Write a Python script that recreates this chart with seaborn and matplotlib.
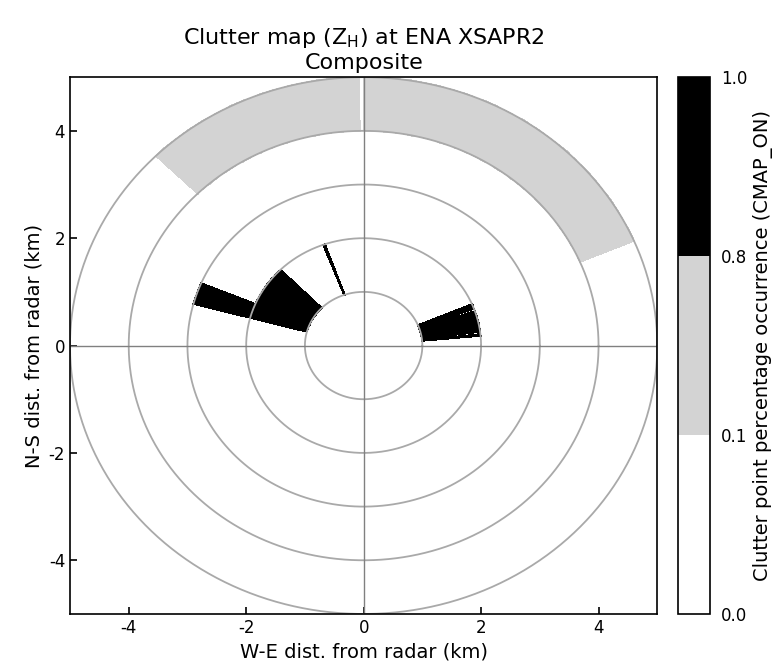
import numpy as np
import seaborn as sns
from matplotlib import pyplot as plt
from matplotlib.colors import ListedColormap, BoundaryNorm

# clutter occurrence per range gate (km) as (start az, stop az, fraction)
range_edges = [0, 1, 2, 3, 4, 5]
clutter_0_1km = []
clutter_1_2km = [(285, 315, 0.9), (340, 341, 0.9),
                 (67, 70, 0.9), (71, 83, 0.9), (84, 85, 0.9)]
clutter_2_3km = [(285, 293, 0.9)]
clutter_3_4km = []
clutter_4_5km = [(315, 359, 0.4), (0, 67, 0.4)]

levels = [0.0, 0.1, 0.8, 1.0]
level_colors = ['white', 'lightgray', 'black']

sns.set_style('ticks', {'xtick.direction': 'in', 'ytick.direction': 'in',
                        'axes.edgecolor': 'black', 'text.color': 'black',
                        'axes.labelcolor': 'black', 'xtick.color': 'black',
                        'ytick.color': 'black'})
plt.rcParams['axes.unicode_minus'] = False

# polar grid with 1 degree azimuth bins
az_edges = np.arange(0, 361, 1)
gates = [clutter_0_1km, clutter_1_2km, clutter_2_3km, clutter_3_4km, clutter_4_5km]
clutter = np.zeros((len(gates), len(az_edges) - 1))
for i, gate in enumerate(gates):
    for a0, a1, val in gate:
        clutter[i, a0:a1] = val
# zero cells are left to the white background
clutter = np.ma.masked_equal(clutter, 0)

R, AZ = np.meshgrid(range_edges, np.deg2rad(az_edges), indexing='ij')
X = R * np.sin(AZ)
Y = R * np.cos(AZ)

cmap = ListedColormap(level_colors)
norm = BoundaryNorm(levels, cmap.N)

fig = plt.figure(figsize=(7.82, 6.71), dpi=100)
ax = fig.add_axes([0.0895, 0.085, 0.751, 0.80])
cax = fig.add_axes([0.867, 0.085, 0.041, 0.80])

mesh = ax.pcolormesh(X, Y, clutter, cmap=cmap, norm=norm, shading='flat',
                     antialiased=False, edgecolors='face', linewidth=0.3)

# range rings and cross hairs
theta = np.linspace(0, 2 * np.pi, 400)
for r in range_edges[1:]:
    ax.plot(r * np.cos(theta), r * np.sin(theta), color='darkgray', lw=1.3)
ax.axhline(0, color='gray', lw=1.0)
ax.axvline(0, color='gray', lw=1.0)

ax.set_xlim(-5, 5)
ax.set_ylim(-5, 5)
ax.set_xticks([-4, -2, 0, 2, 4])
ax.set_yticks([-4, -2, 0, 2, 4])
ax.tick_params(labelsize=12, length=5, width=1.2)
for s in ax.spines.values():
    s.set_linewidth(1.2)
ax.set_xlabel('W-E dist. from radar (km)', fontsize=14, labelpad=4)
ax.set_ylabel('N-S dist. from radar (km)', fontsize=14)
ax.set_title('Clutter map ($\\mathrm{Z_{H}}$) at ENA XSAPR2\nComposite', fontsize=16)

cb = fig.colorbar(mesh, cax=cax, ticks=levels)
cb.ax.set_yticklabels(['0.0', '0.1', '0.8', '1.0'])
cb.ax.tick_params(labelsize=12, length=0, pad=8)
cb.outline.set_linewidth(1.2)
cb.set_label('Clutter point percentage occurrence (CMAP_ON)', fontsize=14)

plt.savefig('out.png', dpi=100)
